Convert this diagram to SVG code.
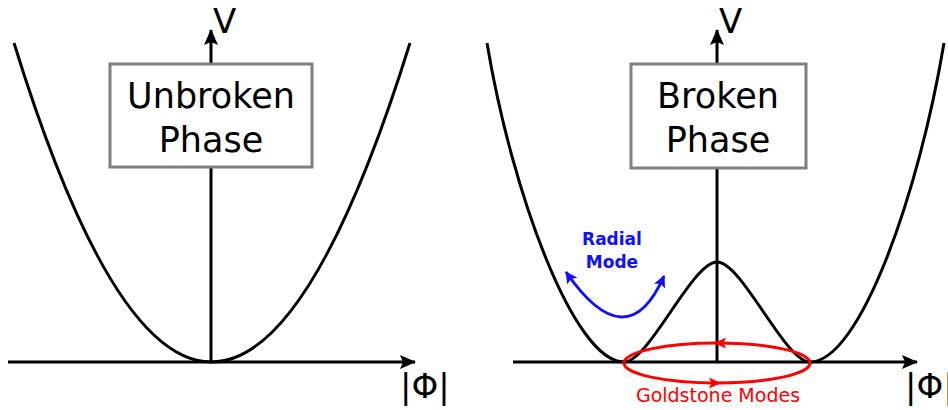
<svg xmlns="http://www.w3.org/2000/svg" width="948" height="410" viewBox="0 0 948 410">
<defs>
<style>
.ax{stroke:#000;stroke-width:3;fill:none}
.curve{stroke:#000;stroke-width:3;fill:none}
.box{fill:#fff;stroke:#7f7f7f;stroke-width:3}
.lbl{font-family:"DejaVu Sans",sans-serif;font-size:34px;fill:#000}
.title{font-family:"DejaVu Sans",sans-serif;font-size:35px;fill:#000;text-anchor:middle}
.radial{font-family:"DejaVu Sans",sans-serif;font-size:17px;font-weight:bold;fill:#1010ff;text-anchor:middle}
.gold{font-family:"DejaVu Sans",sans-serif;font-size:19px;fill:#ff0000;text-anchor:middle}
.redhead{fill:#ff0000}
</style>
<marker id="ah" viewBox="0 0 16 14" refX="15" refY="7" markerWidth="16" markerHeight="14" markerUnits="userSpaceOnUse" orient="auto">
<path d="M0,0 L16,7 L0,14 L3,7 Z" fill="#000"/>
</marker>
<marker id="bh" viewBox="0 0 12 12" refX="11" refY="6" markerWidth="12" markerHeight="12" markerUnits="userSpaceOnUse" orient="auto-start-reverse">
<path d="M0,0 L12,6 L0,12 L2.5,6 Z" fill="#1010ff"/>
</marker>
</defs>

<g id="connectors">
<line class="ax" x1="8" y1="362" x2="415" y2="362" marker-end="url(#ah)"/>
<line class="ax" x1="211" y1="362" x2="211" y2="30" marker-end="url(#ah)"/>
<line class="ax" x1="513" y1="362" x2="917" y2="362" marker-end="url(#ah)"/>
<line class="ax" x1="717" y1="362" x2="717" y2="30" marker-end="url(#ah)"/>
</g>

<g id="unbroken-potential">
<path class="curve" d="M14,43 Q211,681 410,43"/>
</g>

<g id="broken-potential">
<path class="curve" d="M487,43 C512,193 574,362 624,362 C649,362 692,262 717,262 C742,262 785,362 810,362 C860,362 919,193 944,43"/>
</g>

<g id="unbroken-box">
<rect class="box" x="110" y="64" width="202" height="103"/>
<text class="title" x="211" y="108">Unbroken</text>
<text class="title" x="211" y="152">Phase</text>
</g>

<g id="broken-box">
<rect class="box" x="631" y="64" width="175" height="104"/>
<text class="title" x="718" y="108">Broken</text>
<text class="title" x="718" y="152">Phase</text>
</g>

<g id="axis-labels">
<text class="lbl" x="213" y="33">V</text>
<text class="lbl" x="400" y="398">|Φ|</text>
<text class="lbl" x="719" y="33">V</text>
<text class="lbl" x="905" y="398">|Φ|</text>
</g>

<g id="radial-mode">
<path d="M566,272 Q627,360 664,276" fill="none" stroke="#1010ff" stroke-width="3" marker-start="url(#bh)" marker-end="url(#bh)"/>
<text class="radial" x="612" y="245">Radial</text>
<text class="radial" x="612" y="268">Mode</text>
</g>

<g id="goldstone-modes">
<ellipse cx="717" cy="363" rx="93" ry="20" fill="none" stroke="#ff0000" stroke-width="3"/>
<polygon class="redhead" points="714,343 726,337.5 723.5,343 726,348.5"/>
<polygon class="redhead" points="721,383 709,377.5 711.5,383 709,388.5"/>
<text class="gold" x="718" y="402">Goldstone Modes</text>
</g>
</svg>
